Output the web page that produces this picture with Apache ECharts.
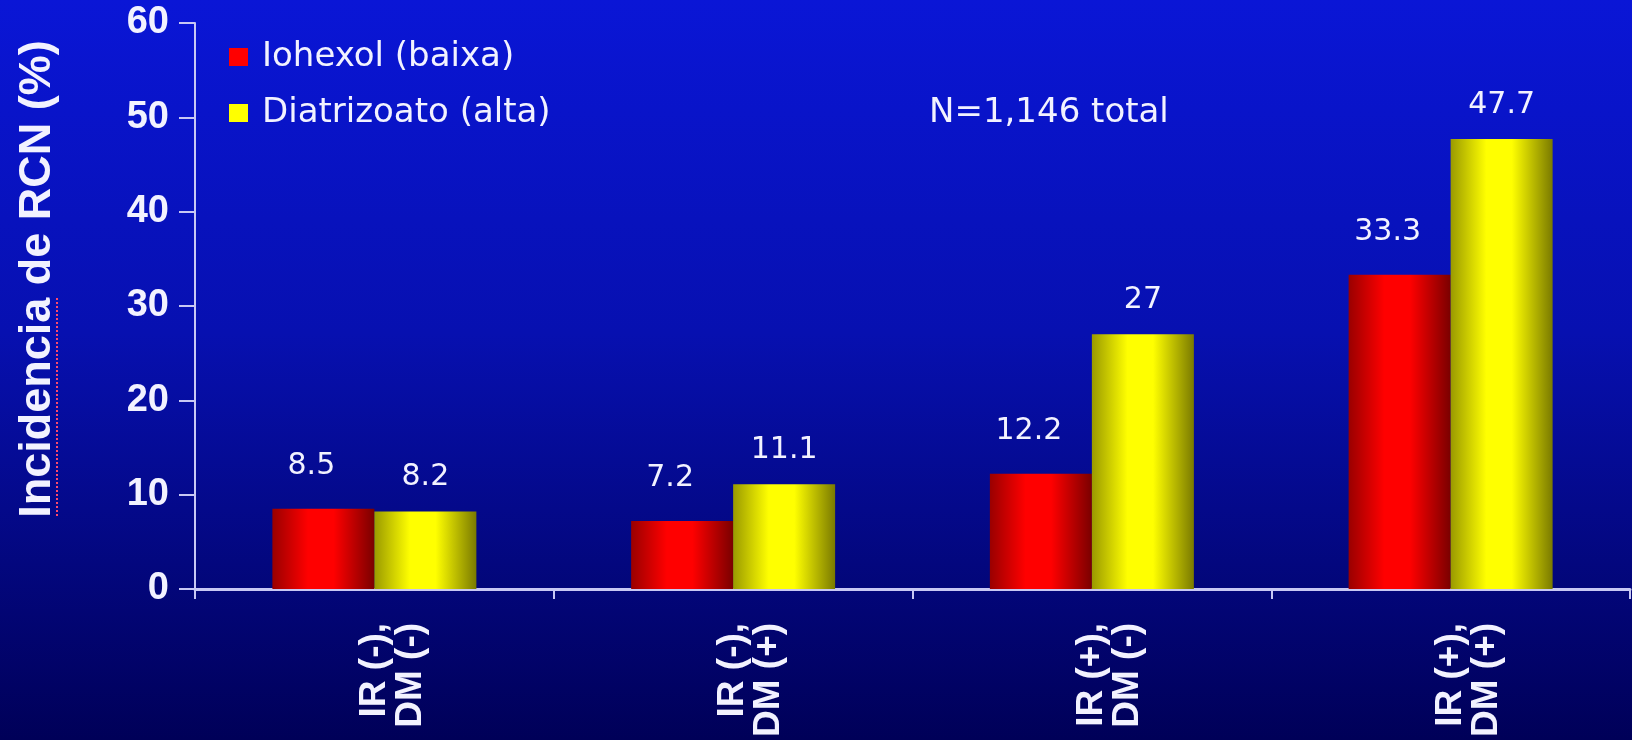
<!DOCTYPE html>
<html>
<head>
<meta charset="utf-8">
<script src="https://cdn.jsdelivr.net/npm/echarts@6/dist/echarts.min.js"></script>
<style>
html,body{margin:0;padding:0;background:#000050;}
#c{width:1632px;height:740px;}
</style>
</head>
<body>
<div id="c"></div>
<script>
const categories = ['IR (-),\nDM (-)', 'IR (-),\nDM (+)', 'IR (+),\nDM (-)', 'IR (+),\nDM (+)'];
const seriesNames = ['Iohexol (baixa)', 'Diatrizoato (alta)'];
const iohexol = [8.5, 7.2, 12.2, 33.3];
const diatrizoato = [8.2, 11.1, 27, 47.7];
const yTicks = [0, 10, 20, 30, 40, 50, 60];
const yTitle = 'Incidencia de RCN (%)';
const note = 'N=1,146 total';

const BOLD = '"Liberation Sans", Arial, sans-serif';
const WIDE = '"DejaVu Sans", sans-serif';
const TXT = '#f2f2ff';
const AX = '#c8c8f4';

function grad(c0, c1, c2) {
  return new echarts.graphic.LinearGradient(0, 0, 1, 0, [
    {offset: 0, color: c0},
    {offset: 0.35, color: c1},
    {offset: 0.6, color: c1},
    {offset: 1, color: c2}
  ]);
}

const chart = echarts.init(document.getElementById('c'), null, {renderer: 'canvas'});
chart.setOption({
  backgroundColor: new echarts.graphic.LinearGradient(0, 0, 0, 1, [
    {offset: 0, color: '#0a16d6'},
    {offset: 0.45, color: '#0710b0'},
    {offset: 1, color: '#000058'}
  ]),
  animation: false,
  textStyle: {fontFamily: BOLD},
  grid: {left: 195, right: 2, top: 23, bottom: 151, containLabel: false},
  legend: {
    orient: 'vertical',
    left: 224,
    top: 35,
    itemWidth: 19,
    itemHeight: 18,
    itemGap: 22,
    icon: 'rect',
    textStyle: {color: TXT, fontSize: 34, fontFamily: WIDE, padding: [0, 0, 0, 9]},
    data: [
      {name: seriesNames[0], itemStyle: {color: '#ff0000'}},
      {name: seriesNames[1], itemStyle: {color: '#ffff00'}}
    ]
  },
  xAxis: {
    type: 'category',
    data: categories,
    axisLine: {show: true, lineStyle: {color: AX, width: 3}},
    axisTick: {show: true, length: 10, lineStyle: {color: AX, width: 2}},
    axisLabel: {
      rotate: 90,
      margin: 34,
      color: TXT,
      fontSize: 37,
      fontWeight: 'bold',
      lineHeight: 36,
      fontFamily: BOLD,
      formatter: function (v) { return '\n' + v; }
    }
  },
  yAxis: {
    type: 'value',
    min: yTicks[0],
    max: yTicks[yTicks.length - 1],
    interval: 10,
    name: yTitle,
    nameLocation: 'middle',
    nameRotate: 90,
    nameGap: 135,
    nameTextStyle: {color: TXT, fontSize: 45, fontWeight: 'bold', fontFamily: BOLD, padding: [0, 0, 0, 54]},
    splitLine: {show: false},
    axisLine: {show: true, lineStyle: {color: AX, width: 2}},
    axisTick: {show: true, length: 16, lineStyle: {color: AX, width: 2}},
    axisLabel: {color: TXT, fontSize: 38, fontWeight: 'bold', margin: 26, fontFamily: BOLD}
  },
  series: [
    {
      name: seriesNames[0],
      type: 'bar',
      data: iohexol,
      barWidth: 102,
      barGap: '0%',
      itemStyle: {color: grad('#9a0000', '#ff0000', '#7a0000')},
      label: {show: true, position: 'top', distance: 28, offset: [-12, 0], color: TXT, fontSize: 30, fontFamily: WIDE}
    },
    {
      name: seriesNames[1],
      type: 'bar',
      data: diatrizoato,
      barWidth: 102,
      barGap: '0%',
      itemStyle: {color: grad('#9a9a00', '#ffff00', '#7a7a00')},
      label: {show: true, position: 'top', distance: 19, color: TXT, fontSize: 30, fontFamily: WIDE}
    }
  ],
  graphic: [
    {
      type: 'text',
      left: 929,
      top: 96,
      style: {text: note, fill: TXT, fontSize: 34, fontFamily: WIDE}
    },
    {
      type: 'line',
      shape: {x1: 57, y1: 298, x2: 57, y2: 518},
      style: {stroke: '#ff4a6a', lineWidth: 2, lineDash: [2, 2]}
    }
  ]
});
</script>
</body>
</html>
